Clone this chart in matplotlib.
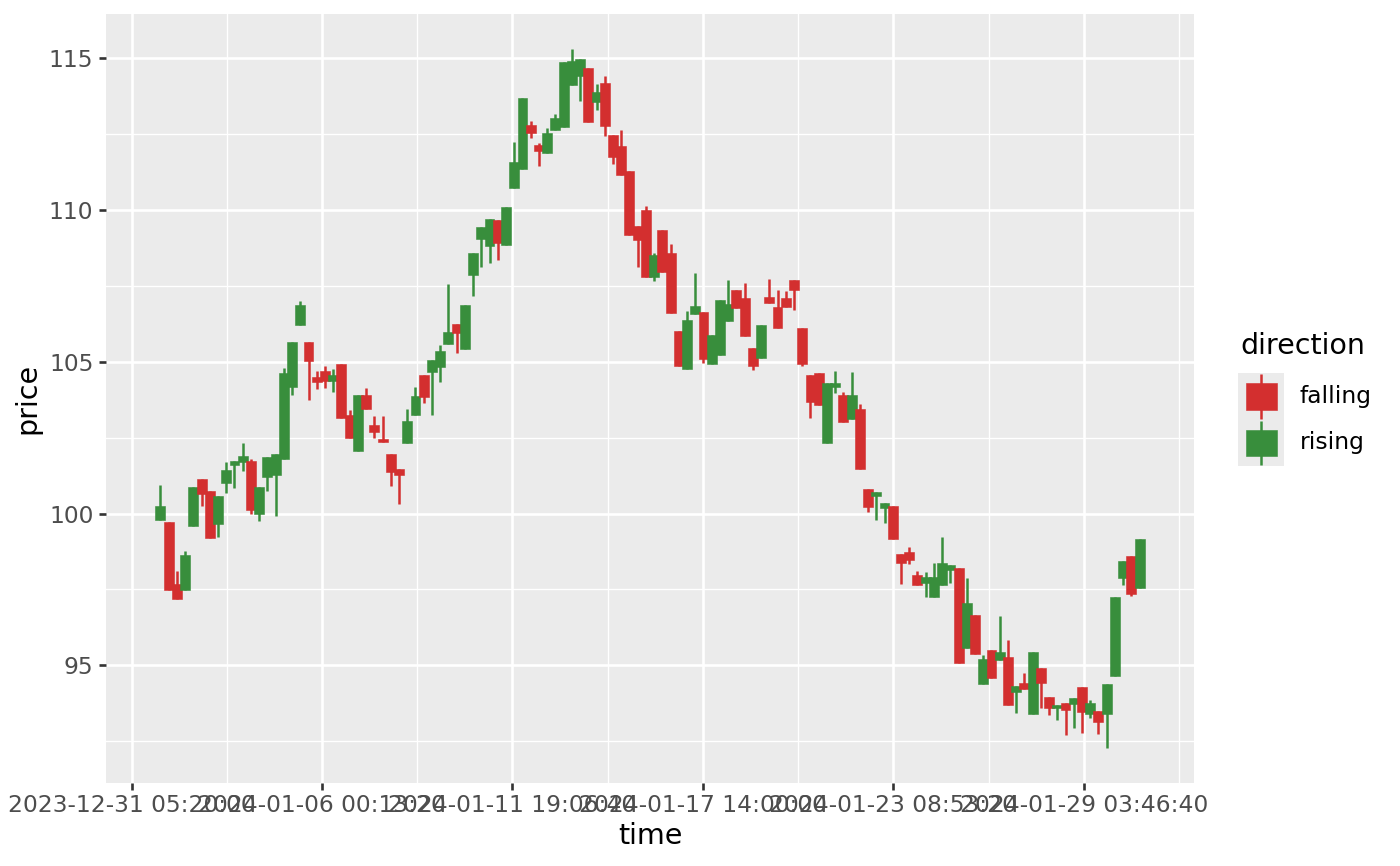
import numpy as np
import matplotlib
matplotlib.use("Agg")
import matplotlib.pyplot as plt
from matplotlib.patches import Rectangle
from matplotlib.ticker import MultipleLocator, FuncFormatter
from datetime import datetime, timezone

# ---------------- data ----------------
start_time = "2024-01-01 02:24:00"   # UTC, first candle
step_hours = 6

open_ = [99.78, 99.71, 97.67, 97.47, 99.58, 101.15, 100.75, 99.64, 101.00, 101.59,
         101.70, 101.74, 99.99, 101.20, 101.26, 101.81, 104.16, 106.20, 105.65, 104.51,
         104.69, 104.38, 104.93, 103.26, 102.05, 103.92, 102.91, 102.46, 101.97, 101.48,
         102.33, 103.24, 104.57, 104.66, 104.82, 105.60, 106.25, 105.43, 107.86, 109.04,
         108.80, 109.66, 108.85, 110.74, 111.34, 112.81, 112.14, 111.88, 112.65, 112.75,
         114.13, 114.41, 114.68, 113.55, 114.18, 112.49, 112.11, 111.30, 109.48, 110.00,
         107.81, 109.35, 108.60, 106.00, 104.76, 106.57, 106.63, 104.92, 105.22, 106.35,
         107.36, 107.10, 105.47, 105.11, 107.12, 106.79, 107.09, 107.69, 106.11, 104.58,
         104.64, 102.31, 104.18, 103.92, 103.13, 103.43, 100.81, 100.57, 100.19, 100.26,
         98.67, 98.74, 97.96, 97.71, 97.24, 97.66, 98.13, 98.19, 95.58, 96.64,
         94.37, 95.50, 95.17, 95.28, 94.12, 94.42, 93.38, 94.92, 93.95, 93.58,
         93.74, 93.71, 94.28, 93.38, 93.49, 93.40, 94.64, 97.88, 98.60, 97.53]
high = [100.93, 99.71, 98.10, 98.78, 100.86, 101.15, 100.75, 100.59, 101.69, 101.74,
        102.33, 101.79, 100.88, 101.87, 101.97, 104.79, 105.65, 106.99, 105.65, 104.69,
        104.86, 104.77, 104.93, 103.40, 103.92, 104.12, 103.21, 103.21, 101.97, 101.48,
        103.45, 104.18, 104.57, 105.05, 105.54, 107.57, 106.25, 106.86, 108.60, 109.44,
        109.70, 109.66, 110.09, 112.23, 113.68, 112.92, 112.21, 112.69, 113.15, 114.87,
        115.31, 114.98, 114.68, 114.15, 114.41, 112.49, 112.65, 111.30, 109.48, 110.14,
        108.60, 109.35, 108.87, 106.00, 106.66, 107.92, 106.63, 105.89, 107.04, 107.70,
        107.36, 107.59, 105.47, 106.22, 107.73, 107.36, 107.34, 107.69, 106.11, 104.58,
        104.64, 104.31, 104.71, 104.00, 104.67, 103.62, 100.81, 100.71, 100.34, 100.26,
        98.67, 98.89, 98.10, 98.08, 98.38, 99.21, 98.31, 98.19, 97.86, 96.64,
        95.34, 95.50, 96.62, 95.83, 94.31, 94.73, 95.45, 94.92, 93.95, 93.68,
        93.74, 93.93, 94.28, 93.87, 93.49, 94.39, 97.26, 98.43, 98.60, 99.17]
low = [99.78, 97.49, 97.19, 97.47, 99.58, 100.24, 99.20, 99.23, 100.66, 100.84,
       101.40, 99.99, 99.75, 100.74, 99.91, 101.81, 103.90, 106.20, 103.74, 104.09,
       104.14, 104.00, 103.15, 102.49, 102.05, 103.43, 102.49, 102.35, 100.90, 100.32,
       102.33, 103.24, 103.65, 103.23, 104.33, 105.60, 105.30, 105.43, 107.16, 108.11,
       108.27, 108.36, 108.85, 110.74, 111.34, 112.38, 111.44, 111.88, 112.65, 112.75,
       114.13, 113.60, 112.89, 113.30, 112.45, 111.52, 111.16, 109.19, 108.14, 107.78,
       107.65, 107.95, 106.60, 104.87, 104.76, 106.57, 104.96, 104.92, 105.22, 106.35,
       106.76, 105.86, 104.74, 105.11, 106.93, 106.11, 106.79, 106.70, 104.87, 103.15,
       103.56, 102.31, 103.98, 103.01, 103.13, 101.48, 100.04, 99.78, 99.68, 99.16,
       97.68, 98.32, 97.64, 97.24, 97.24, 97.66, 97.71, 95.08, 95.58, 95.38,
       94.37, 94.57, 95.17, 93.68, 93.43, 94.20, 93.38, 93.60, 93.36, 93.18,
       92.70, 92.94, 92.77, 93.27, 92.72, 92.28, 94.64, 97.66, 97.28, 97.53]
close = [100.24, 97.49, 97.19, 98.64, 100.86, 100.64, 99.20, 100.59, 101.44, 101.74,
         101.89, 100.11, 100.88, 101.87, 101.97, 104.64, 105.65, 106.87, 105.02, 104.34,
         104.38, 104.58, 103.15, 102.49, 103.92, 103.43, 102.68, 102.35, 101.37, 101.26,
         103.04, 103.87, 103.85, 105.05, 105.37, 105.98, 105.96, 106.86, 108.59, 109.44,
         109.70, 108.92, 110.09, 111.57, 113.68, 112.55, 111.96, 112.54, 113.02, 114.87,
         114.92, 114.98, 112.89, 113.88, 112.77, 111.76, 111.16, 109.19, 109.02, 107.78,
         108.52, 107.95, 106.60, 104.87, 106.38, 106.85, 105.09, 105.89, 107.04, 106.92,
         106.76, 105.86, 104.87, 106.22, 106.93, 106.11, 106.79, 107.37, 104.92, 103.67,
         103.56, 104.31, 104.29, 103.01, 103.90, 101.48, 100.22, 100.71, 100.34, 99.16,
         98.37, 98.48, 97.64, 97.90, 97.90, 98.37, 98.31, 95.08, 97.04, 95.38,
         95.19, 94.57, 95.45, 93.68, 94.31, 94.20, 95.45, 94.40, 93.58, 93.68,
         93.52, 93.93, 93.46, 93.74, 93.13, 94.39, 97.26, 98.43, 97.36, 99.17]

directions = ["falling", "rising"]
dir_colors = {"falling": "#D32F2F", "rising": "#388E3C"}

# ---------------- derived ----------------
o = np.array(open_); h = np.array(high); l = np.array(low); c = np.array(close)
n = len(o)
t0 = datetime.strptime(start_time, "%Y-%m-%d %H:%M:%S").replace(tzinfo=timezone.utc).timestamp()
times = t0 + np.arange(n) * step_hours * 3600.0
direction = np.where(c >= o, "rising", "falling")
cols = [dir_colors[d] for d in direction]
body_w = 26000.0  # seconds

W, H = 1400, 866
fig = plt.figure(figsize=(W / 100, H / 100), dpi=100)
fig.patch.set_facecolor("white")

px_l, px_r, px_t, px_b = 106, 1194, 14, 782.7
ax = fig.add_axes([px_l / W, 1 - px_b / H, (px_r - px_l) / W, (px_b - px_t) / H])
ax.set_facecolor("#EBEBEB")
for s in ax.spines.values():
    s.set_visible(False)

ax.vlines(times, l, h, colors=cols, linewidth=1.8, zorder=3)
ax.bar(times, c - o, bottom=o, width=body_w, color=cols, edgecolor=cols,
       linewidth=0.4, zorder=4)

# limits with ggplot-like 5% expansion
x0, x1 = times[0] - body_w / 2, times[-1] + body_w / 2
ax.set_xlim(x0 - 0.05 * (x1 - x0), x1 + 0.05 * (x1 - x0))
y0, y1 = l.min(), h.max()
ax.set_ylim(y0 - 0.05 * (y1 - y0), y1 + 0.05 * (y1 - y0))

ax.xaxis.set_major_locator(MultipleLocator(500000))
ax.xaxis.set_minor_locator(MultipleLocator(250000))
ax.xaxis.set_major_formatter(FuncFormatter(
    lambda v, p: datetime.fromtimestamp(v, tz=timezone.utc).strftime("%Y-%m-%d %H:%M:%S")))
ax.yaxis.set_major_locator(MultipleLocator(5))
ax.yaxis.set_minor_locator(MultipleLocator(2.5))
ax.yaxis.set_major_formatter(FuncFormatter(lambda v, p: f"{v:g}"))

ax.grid(which="major", color="white", linewidth=1.9, zorder=0)
ax.grid(which="minor", color="white", linewidth=0.95, zorder=0)
ax.set_axisbelow(True)
ax.tick_params(which="major", length=5.07, width=1.9, color="#333333",
               labelcolor="#4D4D4D", labelsize=16.8)
ax.tick_params(axis="x", which="major", pad=3)
ax.tick_params(axis="y", which="major", pad=4)
ax.tick_params(which="minor", length=0)

fig.text((px_l + px_r) / 2 / W, 1 - 836 / H, "time", fontsize=20.5, ha="center", va="center")
fig.text(27 / W, 1 - (px_t + px_b) / 2 / H, "price", fontsize=20.5, ha="center", va="center",
         rotation=90)

# ---------------- legend ----------------
fig.text(1240 / W, 1 - 346 / H, "direction", fontsize=20.5, ha="left", va="center")
kx0, ky0, kw, kh = 1238, 373, 46, 93
lax = fig.add_axes([kx0 / W, 1 - (ky0 + kh) / H, kw / W, kh / H])
lax.set_xlim(0, kw); lax.set_ylim(kh, 0); lax.axis("off")
lax.add_patch(Rectangle((0, 0), kw, kh, facecolor="#EBEBEB", edgecolor="none"))
for i, d in enumerate(directions):
    yo = i * kh / 2
    colr = dir_colors[d]
    lax.plot([kw / 2, kw / 2], [yo + 1, yo + 45.5], color=colr, linewidth=1.8, solid_capstyle="butt")
    lax.add_patch(Rectangle((8, yo + 10.3), 31, 26.3, facecolor=colr, edgecolor=colr, linewidth=0.4))
    fig.text(1300 / W, 1 - (397 + i * 46) / H, d, fontsize=16.8, ha="left", va="center")

fig.savefig("out.png", dpi=100)
